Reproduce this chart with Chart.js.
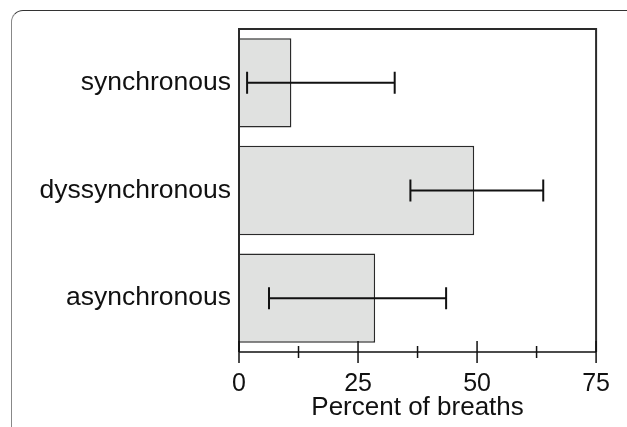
<!DOCTYPE html>
<html>
<head>
<meta charset="utf-8">
<script src="https://cdn.jsdelivr.net/npm/chart.js@4"></script>
<style>
  html, body { margin: 0; padding: 0; background: #fff; }
  #wrap { position: relative; width: 627px; height: 427px; overflow: hidden; }
  #card {
    position: absolute; left: 11px; top: 10px; width: 700px; height: 500px;
    border-top: 1.5px solid #333; border-left: 1.5px solid #888;
    border-top-left-radius: 12px;
  }
  #chart { position: absolute; left: 0; top: 0; }
</style>
</head>
<body>
<div id="wrap">
  <div id="card"></div>
  <canvas id="chart" width="627" height="427"></canvas>
</div>
<script>
const categories = ['synchronous', 'dyssynchronous', 'asynchronous'];
const percentValues = [11, 49.4, 28.6];
const errLow = [1.7, 36, 6.3];
const errHigh = [32.7, 63.9, 43.5];
const xTicks = [0, 25, 50, 75];
const xMinorTicks = [12.5, 37.5, 62.5];

// error bars, frame and crossing ticks drawn on the chart's own scales
const extrasPlugin = {
  id: 'extras',
  afterDatasetsDraw(chart) {
    const ctx = chart.ctx;
    const x = chart.scales.x;
    const y = chart.scales.y;
    const area = chart.chartArea;
    ctx.save();

    ctx.strokeStyle = '#111';
    ctx.lineWidth = 2;
    categories.forEach((c, i) => {
      const py = y.getPixelForValue(i);
      const x1 = x.getPixelForValue(errLow[i]);
      const x2 = x.getPixelForValue(errHigh[i]);
      ctx.beginPath();
      ctx.moveTo(x1, py); ctx.lineTo(x2, py);
      ctx.moveTo(x1, py - 11); ctx.lineTo(x1, py + 11);
      ctx.moveTo(x2, py - 11); ctx.lineTo(x2, py + 11);
      ctx.stroke();
    });

    // frame: top, right, left
    ctx.strokeStyle = '#2a2a2a';
    ctx.lineWidth = 2;
    ctx.beginPath();
    ctx.moveTo(area.left, area.bottom);
    ctx.lineTo(area.left, area.top);
    ctx.lineTo(area.right, area.top);
    ctx.lineTo(area.right, area.bottom);
    ctx.stroke();

    // bottom axis and ticks
    ctx.strokeStyle = '#111';
    ctx.lineWidth = 1.5;
    ctx.beginPath();
    ctx.moveTo(area.left, area.bottom);
    ctx.lineTo(area.right, area.bottom);
    xTicks.forEach(v => {
      const px = x.getPixelForValue(v);
      ctx.moveTo(px, area.bottom - 11); ctx.lineTo(px, area.bottom + 11);
    });
    xMinorTicks.forEach(v => {
      const px = x.getPixelForValue(v);
      ctx.moveTo(px, area.bottom - 6); ctx.lineTo(px, area.bottom + 6);
    });
    ctx.stroke();
    ctx.restore();
  }
};

new Chart(document.getElementById('chart'), {
  type: 'bar',
  data: {
    labels: categories,
    datasets: [{
      data: percentValues,
      backgroundColor: '#e0e1e0',
      borderColor: '#2a2a2a',
      borderWidth: 1.5,
      categoryPercentage: 1,
      barPercentage: 0.83
    }]
  },
  options: {
    indexAxis: 'y',
    responsive: false,
    animation: false,
    layout: { padding: { top: 29, right: 30, left: 0, bottom: 0 } },
    plugins: { legend: { display: false }, tooltip: { enabled: false } },
    scales: {
      x: {
        min: 0, max: 75,
        afterBuildTicks: s => { s.ticks = xTicks.map(v => ({ value: v })); },
        afterFit: s => { s.height = 75; },
        grid: { display: false, drawTicks: false },
        border: { display: false },
        ticks: {
          padding: 17,
          color: '#111',
          font: { family: 'Liberation Sans, Arial', size: 25 }
        },
        title: {
          display: true,
          text: 'Percent of breaths',
          color: '#111',
          padding: { top: 0, bottom: 4 },
          font: { family: 'Liberation Sans, Arial', size: 26 }
        }
      },
      y: {
        afterFit: s => { s.width = 239; },
        grid: { display: false, drawTicks: false },
        border: { display: false },
        ticks: {
          padding: 8,
          color: '#111',
          font: { family: 'Liberation Sans, Arial', size: 26.5 }
        }
      }
    }
  },
  plugins: [extrasPlugin]
});
</script>
</body>
</html>
